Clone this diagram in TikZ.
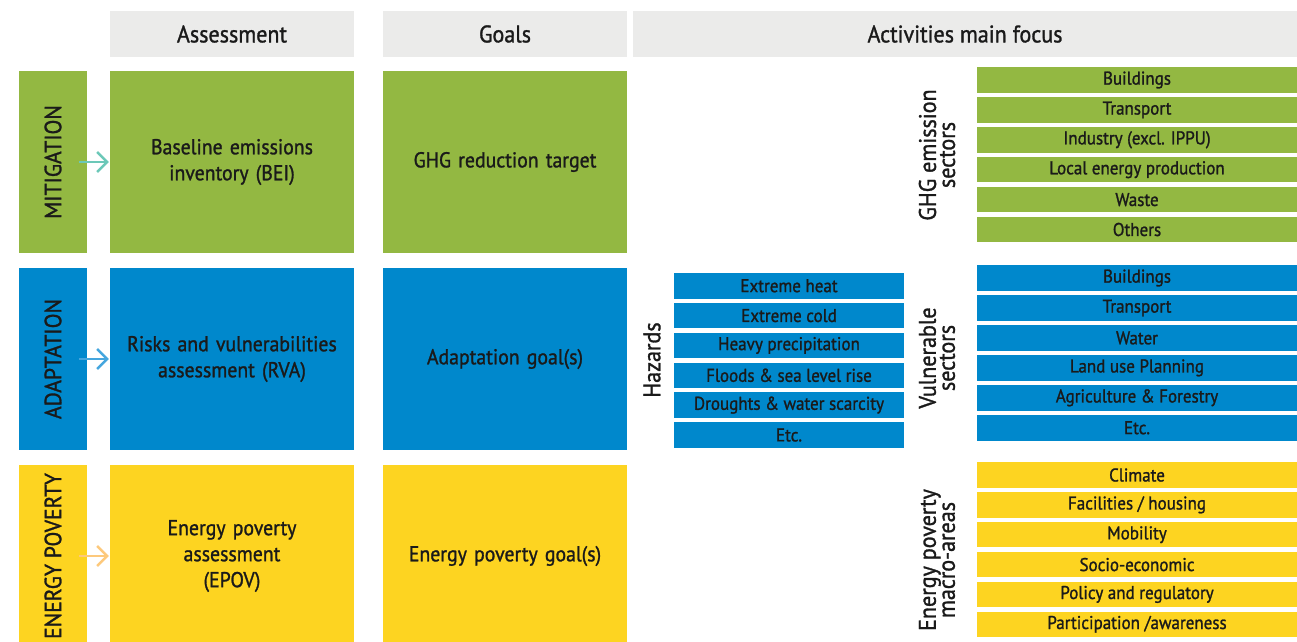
\documentclass[tikz,border=0pt]{standalone}
\usepackage{fontspec}
\setmainfont{PT Sans}[FakeStretch=0.92,FakeBold=1.2]
\usetikzlibrary{arrows.meta}

\definecolor{hdrgray}{HTML}{EBEBEA}
\definecolor{mitgreen}{HTML}{93B842}
\definecolor{adablue}{HTML}{0088CC}
\definecolor{povyellow}{HTML}{FDD421}
\definecolor{arrteal}{HTML}{6CC8B8}
\definecolor{arrblue}{HTML}{45A6DE}
\definecolor{arrorange}{HTML}{FDC97C}
\definecolor{txt}{HTML}{1A1A1A}

\tikzset{
  hdr/.style={fill=hdrgray, minimum height=46pt, inner sep=0pt, text=txt,
    font=\fontsize{24}{26}\selectfont},
  bigcell/.style={fill=#1, minimum width=244pt, minimum height=182pt,
    inner sep=0pt, text=txt, align=center, text width=230pt},
  tag/.style={fill=#1, minimum width=68pt, minimum height=182pt,
    inner sep=0pt, text=txt},
  item/.style={fill=#1, minimum height=25.5pt, inner sep=0pt, text=txt,
    font=\fontsize{18.5}{20}\selectfont},
  grouplbl/.style={rotate=90, text=txt, align=center, inner sep=0pt,
    font=\fontsize{24}{19}\selectfont},
  feed/.style={draw=#1, line width=2.4pt,
    -{Straight Barb[length=10pt,width=20pt]}}
}

\begin{document}
\begin{tikzpicture}[x=1pt,y=-1pt, font=\fontsize{21.5}{26}\selectfont]
  \useasboundingbox (0,0) rectangle (1297,641);
  \clip (0,0) rectangle (1297,641);

  % column headers
  \node[hdr, minimum width=244pt] (hAss) at (232,34) {Assessment};
  \node[hdr, minimum width=244pt] (hGoal) at (505,34) {Goals};
  \node[hdr, minimum width=664pt] (hAct) at (965,34) {Activities main focus};

  % the three rows: tag, assessment, goal
  \foreach \y/\c/\a/\lbl/\ass/\goal [count=\i] in {
      162/mitgreen/arrteal/MITIGATION/Baseline emissions\\inventory (BEI)/GHG reduction target,
      359/adablue/arrblue/ADAPTATION/Risks and vulnerabilities\\assessment (RVA)/Adaptation goal(s),
      556/povyellow/arrorange/ENERGY POVERTY/Energy poverty\\assessment\\(EPOV)/Energy poverty goal(s)}{
    \node[tag=\c] (tag\i) at (53,\y) {};
    \node[rotate=90, text=txt, font=\fontsize{23.5}{26}\selectfont] at (tag\i) {\lbl};
    \node[bigcell=\c] (ass\i) at (232,\y) {\ass};
    \node[bigcell=\c] (goal\i) at (505,\y) {\goal};
    \draw[feed=\a] ([xshift=-8pt]tag\i.east) -- ([xshift=-1pt]ass\i.west);
  }

  % hazards
  \node[grouplbl] (lHaz) at (652,360) {Hazards};
  \foreach \t [count=\i] in {Extreme heat, Extreme cold, Heavy precipitation,
      Floods \& sea level rise, Droughts \& water scarcity, Etc.}
    \node[item=adablue, minimum width=230pt] (haz\i) at (789,{285.75+29.85*(\i-1)}) {\t};

  % GHG emission sectors
  \node[grouplbl] (lGhg) at (937,155) {GHG emission\\sectors};
  \foreach \t [count=\i] in {Buildings, Transport, Industry (excl. IPPU),
      Local energy production, Waste, Others}
    \node[item=mitgreen, minimum width=320pt] (ghg\i) at (1137,{80+29.9*(\i-1)}) {\t};

  % vulnerable sectors
  \node[grouplbl] (lVul) at (937,358) {Vulnerable\\sectors};
  \foreach \t [count=\i] in {Buildings, Transport, Water, Land use Planning,
      Agriculture \& Forestry, Etc.}
    \node[item=adablue, minimum width=320pt] (vul\i) at (1137,{278+29.95*(\i-1)}) {\t};

  % energy poverty macro-areas
  \node[grouplbl] (lEpa) at (937,560) {Energy poverty\\macro-areas};
  \foreach \t [count=\i] in {Climate, Facilities / housing, Mobility, Socio-economic,
      Policy and regulatory, Participation /awareness}
    \node[item=povyellow, minimum width=320pt] (epa\i) at (1137,{475+29.85*(\i-1)}) {\t};
\end{tikzpicture}
\end{document}
